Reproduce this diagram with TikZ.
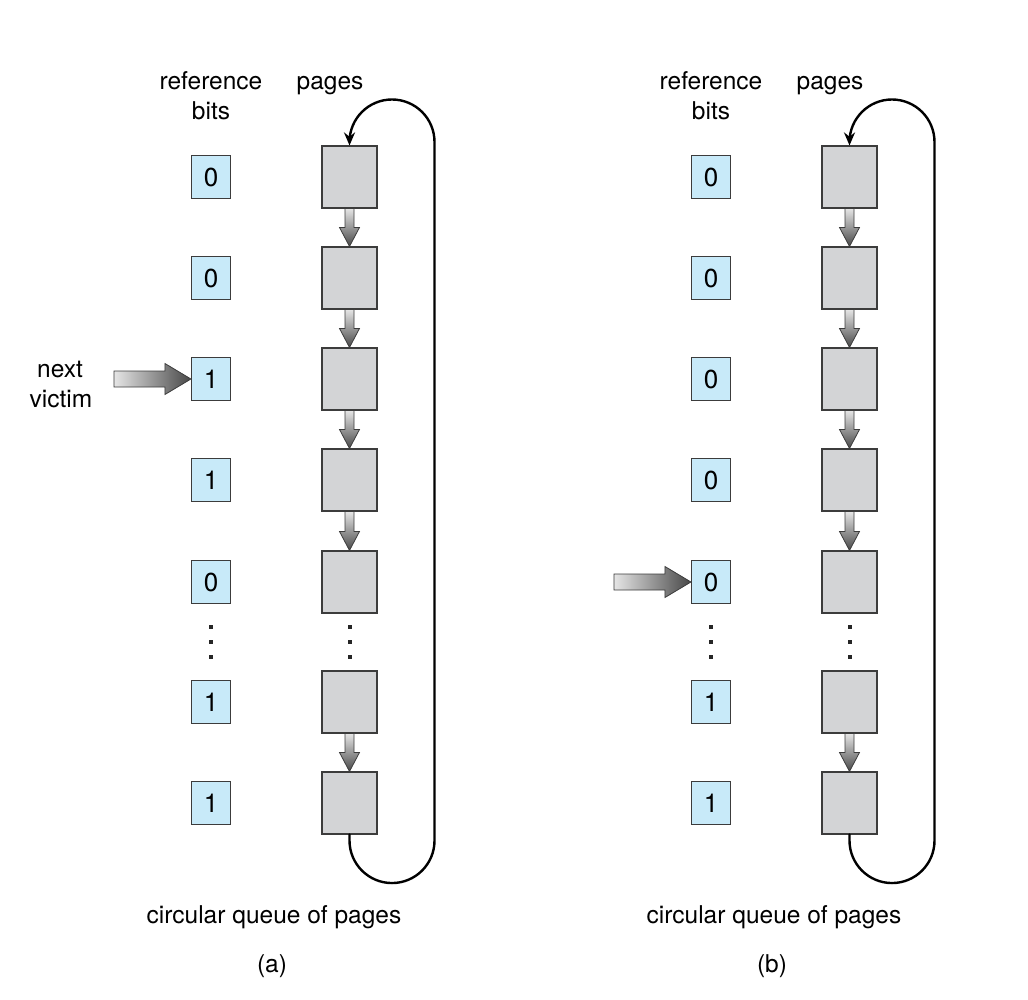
\documentclass[tikz,border=0pt]{standalone}
\usepackage{fontspec}
\setmainfont{TeX Gyre Heros}
\usetikzlibrary{calc,arrows.meta}
\definecolor{bitblue}{RGB}{200,234,249}
\definecolor{pagegray}{RGB}{211,212,214}
\definecolor{edgegray}{RGB}{60,60,60}
\newcommand{\clockpanel}[5]{%
  \begin{scope}[xshift=#2]
  \node[lbl] (#1ref) at (211,-90) {reference};
  \node[lbl] (#1bits) at (211,-120) {bits};
  \node[lbl] (#1pages) at (330,-90) {pages};
  \foreach \y/\b [count=\i] in {#3} {
    \node[bitbox] (#1b\i) at (211,-\y) {\b};
    \node[pagebox] (#1p\i) at (349.5,-\y) {};
  }
  \foreach \y [count=\k] in {627,642,657} {
    \node[dotbox] (#1da\k) at (211,-\y) {};
    \node[dotbox] (#1db\k) at (349.5,-\y) {};
  }
  \foreach \s/\t in {1/2,2/3,3/4,4/5,6/7} {
    \shadedraw[downarrow] ($(#1p\s.south)+(-4.5,0)$) -- ($(#1p\t.north)+(-4.5,19)$)
      -- ($(#1p\t.north)+(-10,19)$) -- (#1p\t.north) -- ($(#1p\t.north)+(10,19)$)
      -- ($(#1p\t.north)+(4.5,19)$) -- ($(#1p\s.south)+(4.5,0)$) -- cycle;
  }
  \shadedraw[rightarrow] ($(#1b#4.west)+(-77,8)$) -- ($(#1b#4.west)+(-26,8)$)
    -- ($(#1b#4.west)+(-26,15.5)$) -- (#1b#4.west) -- ($(#1b#4.west)+(-26,-15.5)$)
    -- ($(#1b#4.west)+(-26,-8)$) -- ($(#1b#4.west)+(-77,-8)$) -- cycle;
  \draw[looparrow] (#1p7.south) -- ++(0,-6) arc[start angle=180,end angle=360,radius=42.5pt]
    -- (434.5,-142) arc[start angle=0,end angle=180,radius=42.5pt] -- (#1p1.north);
  \node[lbl] (#1cq) at (274,-923) {circular queue of pages};
  \node[lbl] (#1cap) at (272,-972) {#5};
  \end{scope}}
\begin{document}
\begin{tikzpicture}[x=1pt,y=1pt,
  bitbox/.style={draw=edgegray, line width=1.1pt, fill=bitblue, minimum width=39pt, minimum height=43pt, inner sep=0pt, font=\fontsize{26}{30}\selectfont},
  pagebox/.style={draw=edgegray, line width=1.1pt, fill=pagegray, minimum width=55pt, minimum height=62pt, inner sep=0pt},
  lbl/.style={font=\fontsize{24.5}{30}\selectfont, inner sep=0pt, anchor=base},
  dotbox/.style={fill=black!85, minimum size=4pt, inner sep=0pt},
  looparrow/.style={line width=2.4pt, line cap=round, -{Stealth[length=13pt,width=11pt]}},
  downarrow/.style={top color=white!90!black, bottom color=black!72, draw=edgegray, line width=0.8pt},
  rightarrow/.style={left color=white!90!black, right color=black!72, draw=edgegray, line width=0.8pt}
]
\useasboundingbox (0,0) rectangle (1028,-1000);
\clockpanel{a}{0}{177/0,278/0,379/1,480/1,582/0,702/1,803/1}{3}{(a)}
\clockpanel{b}{500}{177/0,278/0,379/0,480/0,582/0,702/1,803/1}{5}{(b)}
\node[lbl] (next) at (60,-377) {next};
\node[lbl] (victim) at (61,-407) {victim};
\end{tikzpicture}
\end{document}
